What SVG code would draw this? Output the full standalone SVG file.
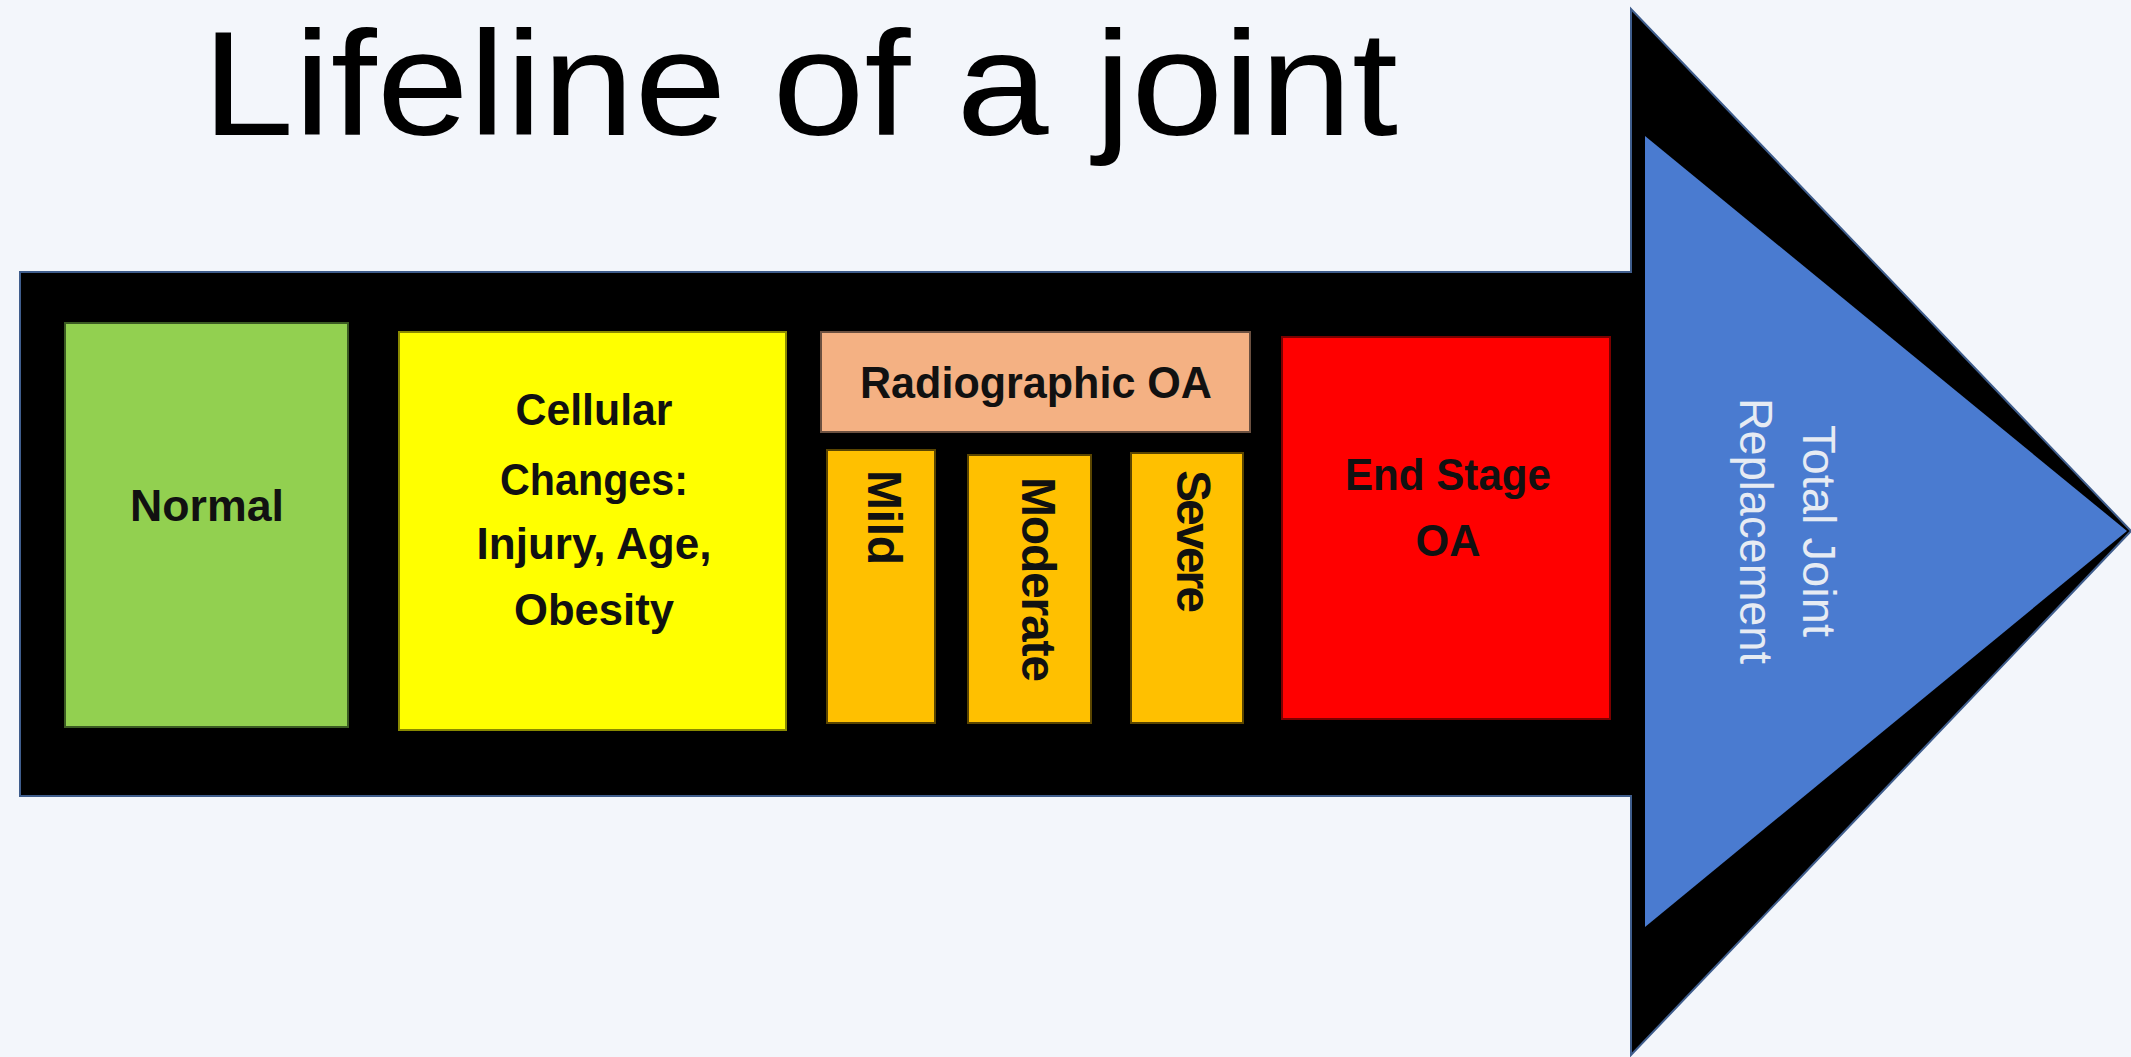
<svg xmlns="http://www.w3.org/2000/svg" width="2131" height="1057" viewBox="0 0 2131 1057">
<style>
.lbl{font-family:"Liberation Sans",Arial,sans-serif;font-weight:bold;font-size:44px;fill:#111;text-anchor:middle}
.vlbl{font-family:"Liberation Sans",Arial,sans-serif;font-weight:bold;font-size:48px;fill:#111}
.wlbl{font-family:"Liberation Sans",Arial,sans-serif;font-size:46px;fill:#e6ebf3;text-anchor:middle}
</style>
<rect width="2131" height="1057" fill="#f3f6fb"/>
<text x="202" y="135" font-family="Liberation Sans, Arial, sans-serif" font-size="148" fill="#000" textLength="1196" lengthAdjust="spacingAndGlyphs">Lifeline of a joint</text>
<g id="arrow">
<polygon points="20,272 1631,272 1631,9 2131,531 1631,1055 1631,796 20,796" fill="#000" stroke="#3f5d8c" stroke-width="2"/>
</g>
<g id="total-joint-replacement">
<polygon points="1645,136 2127,531 1645,927" fill="#4a7bd0"/>
<text class="wlbl" transform="translate(1803,531) rotate(90)" textLength="212" lengthAdjust="spacingAndGlyphs">Total Joint</text>
<text class="wlbl" transform="translate(1740,531) rotate(90)" textLength="266" lengthAdjust="spacingAndGlyphs">Replacement</text>
</g>
<g id="normal">
<rect x="65" y="323" width="283" height="404" fill="#92d050" stroke="#3a5a22" stroke-width="2"/>
<text class="lbl" x="207" y="521" textLength="154" lengthAdjust="spacingAndGlyphs">Normal</text>
</g>
<g id="cellular-changes">
<rect x="399" y="332" width="387" height="398" fill="#ffff00" stroke="#8a8a00" stroke-width="2"/>
<text class="lbl" x="594" y="425" textLength="157" lengthAdjust="spacingAndGlyphs">Cellular</text>
<text class="lbl" x="594" y="495" textLength="188" lengthAdjust="spacingAndGlyphs">Changes:</text>
<text class="lbl" x="594" y="559" textLength="235" lengthAdjust="spacingAndGlyphs">Injury, Age,</text>
<text class="lbl" x="594" y="625" textLength="160" lengthAdjust="spacingAndGlyphs">Obesity</text>
</g>
<g id="radiographic-oa">
<rect x="821" y="332" width="429" height="100" fill="#f4b183" stroke="#6b5040" stroke-width="2"/>
<text class="lbl" x="1036" y="398" textLength="352" lengthAdjust="spacingAndGlyphs">Radiographic OA</text>
</g>
<g id="mild">
<rect x="827" y="450" width="108" height="273" fill="#ffc000" stroke="#5a4500" stroke-width="2"/>
<text class="vlbl" transform="translate(868,470) rotate(90)" textLength="95">Mild</text>
</g>
<g id="moderate">
<rect x="968" y="455" width="123" height="268" fill="#ffc000" stroke="#5a4500" stroke-width="2"/>
<text class="vlbl" transform="translate(1022,477) rotate(90)" textLength="205">Moderate</text>
</g>
<g id="severe">
<rect x="1131" y="453" width="112" height="270" fill="#ffc000" stroke="#5a4500" stroke-width="2"/>
<text class="vlbl" transform="translate(1177,470) rotate(90)" textLength="143">Severe</text>
</g>
<g id="end-stage-oa">
<rect x="1282" y="337" width="328" height="382" fill="#ff0000" stroke="#7a0000" stroke-width="2"/>
<text class="lbl" x="1448" y="490" textLength="206" lengthAdjust="spacingAndGlyphs">End Stage</text>
<text class="lbl" x="1448" y="556" textLength="65" lengthAdjust="spacingAndGlyphs">OA</text>
</g>
<g id="connectors"></g>
</svg>
